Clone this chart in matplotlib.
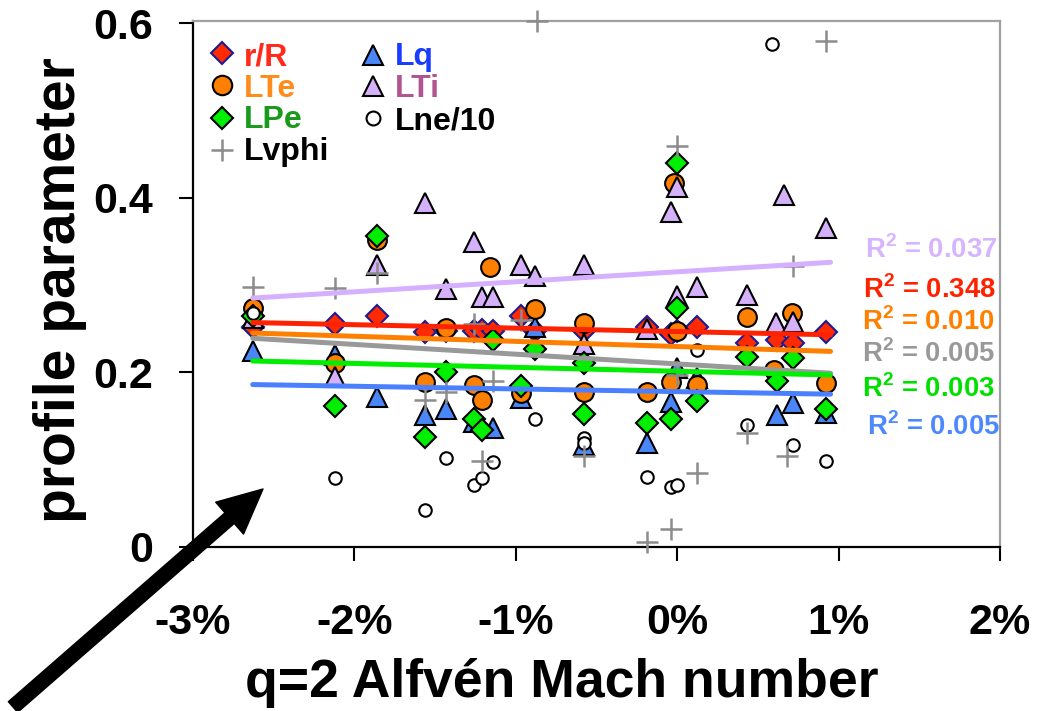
import matplotlib
matplotlib.use("Agg")
import matplotlib.pyplot as plt
from matplotlib.lines import Line2D
from matplotlib.patches import FancyArrowPatch

plt.rcParams['font.family'] = ['Liberation Sans', 'DejaVu Sans']
plt.rcParams['font.weight'] = 'bold'
plt.rcParams['mathtext.fontset'] = 'custom'
plt.rcParams['mathtext.rm'] = 'Liberation Sans:bold'
plt.rcParams['mathtext.bf'] = 'Liberation Sans:bold'

# ---- data: x = q=2 Alfven Mach number (%), y = profile parameter ----
rR_x = [-2.63, -2.12, -1.86, -1.56, -1.43, -1.26, -1.21, -1.14, -0.97, -0.88,
        -0.58, -0.19, -0.04, 0.00, 0.12, 0.43, 0.62, 0.72, 0.92]
rR_y = [0.252, 0.255, 0.264, 0.246, 0.247, 0.247, 0.248, 0.247, 0.264, 0.247,
        0.247, 0.252, 0.244, 0.247, 0.252, 0.234, 0.237, 0.234, 0.246]

Lq_x = [-2.63, -2.12, -1.86, -1.56, -1.43, -1.26, -1.14, -0.97, -0.88, -0.58,
        -0.19, -0.04, 0.00, 0.12, 0.62, 0.72, 0.92]
Lq_y = [0.224, 0.220, 0.172, 0.151, 0.158, 0.143, 0.136, 0.171, 0.252, 0.117,
        0.119, 0.166, 0.205, 0.193, 0.151, 0.165, 0.153]

LTe_x = [-2.63, -2.12, -1.86, -1.56, -1.43, -1.26, -1.21, -1.16, -0.97, -0.88,
         -0.58, -0.58, -0.19, -0.04, -0.02, 0.00, 0.12, 0.43, 0.60, 0.71, 0.92]
LTe_y = [0.274, 0.211, 0.352, 0.189, 0.251, 0.186, 0.168, 0.321, 0.176, 0.273,
         0.257, 0.178, 0.178, 0.189, 0.417, 0.247, 0.185, 0.263, 0.203, 0.268, 0.188]

LTi_x = [-2.63, -2.12, -1.86, -1.56, -1.43, -1.26, -1.21, -1.14, -0.97, -0.88,
         -0.58, -0.58, -0.19, -0.04, 0.00, 0.00, 0.12, 0.43, 0.66, 0.61, 0.72, 0.92]
LTi_y = [0.262, 0.195, 0.323, 0.394, 0.295, 0.349, 0.286, 0.286, 0.323, 0.310,
         0.323, 0.233, 0.250, 0.384, 0.412, 0.287, 0.298, 0.289, 0.403, 0.257, 0.258, 0.365]

LPe_x = [-2.63, -2.12, -1.86, -1.56, -1.43, -1.26, -1.21, -1.14, -0.97, -0.88,
         -0.58, -0.58, -0.19, -0.04, 0.00, 0.00, 0.12, 0.43, 0.62, 0.72, 0.92]
LPe_y = [0.264, 0.161, 0.356, 0.126, 0.200, 0.146, 0.134, 0.237, 0.184, 0.227,
         0.211, 0.152, 0.142, 0.146, 0.440, 0.274, 0.167, 0.218, 0.190, 0.216, 0.158]

Lne_x = [-2.63, -2.12, -1.56, -1.43, -1.26, -1.21, -1.14, -0.88, -0.58, -0.58,
         -0.19, -0.04, 0.00, 0.12, 0.43, 0.59, 0.72, 0.92]
Lne_y = [0.268, 0.079, 0.042, 0.102, 0.071, 0.079, 0.097, 0.146, 0.125, 0.119,
         0.080, 0.069, 0.071, 0.226, 0.140, 0.576, 0.117, 0.099]

Lvphi_x = [-2.63, -2.12, -1.86, -1.56, -1.43, -1.26, -1.21, -1.14, -0.97, -0.87,
           -0.58, -0.19, -0.04, 0.00, 0.00, 0.12, 0.43, 0.68, 0.72, 0.92]
Lvphi_y = [0.298, 0.297, 0.314, 0.168, 0.178, 0.255, 0.098, 0.190, 0.260, 0.602,
           0.104, 0.006, 0.021, 0.459, 0.197, 0.085, 0.131, 0.104, 0.322, 0.579]

# linear trend lines (start / end values over the fitted range)
fit_x = [-2.63, 0.95]
fit_LTi = [0.285, 0.326]
fit_rR = [0.257, 0.243]
fit_LTe = [0.245, 0.224]
fit_Lvphi = [0.239, 0.199]
fit_LPe = [0.213, 0.197]
fit_Lq = [0.186, 0.175]

r2_values = ['0.037', '0.348', '0.010', '0.005', '0.003', '0.005']

xticks = [-3, -2, -1, 0, 1, 2]
xtick_labels = ['-3%', '-2%', '-1%', '0%', '1%', '2%']
yticks = [0, 0.2, 0.4, 0.6]
ytick_labels = ['0', '0.2', '0.4', '0.6']

# ---- styles ----
sty = {
    'rR':    dict(marker='D', ms=11, mfc='#ff2a00', mec='#1c1c90', mew=1.5),
    'Lq':    dict(marker='^', ms=15, mfc='#4a86f7', mec='black', mew=1.5),
    'LTe':   dict(marker='o', ms=13.5, mfc='#ff8000', mec='black', mew=1.5),
    'LTi':   dict(marker='^', ms=15, mfc='#d5b0fb', mec='black', mew=1.5),
    'LPe':   dict(marker='D', ms=11, mfc='#00ee00', mec='black', mew=1.5),
    'Lne':   dict(marker='o', ms=9, mfc='white', mec='black', mew=1.5),
    'Lvphi': dict(marker='+', ms=16, mec='#8c8c8c', mew=1.8),
}

W, H = 1042, 711
fig = plt.figure(figsize=(W / 100, H / 100), dpi=100)
ax = fig.add_axes([193 / W, 164 / H, 807 / W, 526 / H])
ax.set_xlim(-3, 2)
ax.set_ylim(0, 0.6023)


def fpx(x, y):
    """figure pixel (from top-left) -> inches for dpi_scale_trans"""
    return x / 100, (H - y) / 100


series = [
    ('rR', rR_x, rR_y), ('Lq', Lq_x, Lq_y), ('LTe', LTe_x, LTe_y),
    ('LTi', LTi_x, LTi_y), ('LPe', LPe_x, LPe_y), ('Lne', Lne_x, Lne_y),
    ('Lvphi', Lvphi_x, Lvphi_y),
]
for z, (key, xs, ys) in enumerate(series):
    ax.plot(xs, ys, ls='none', zorder=3 + z, clip_on=False, **sty[key])

fits = [
    (fit_LTi, '#d4b0ff'), (fit_rR, '#ff2200'), (fit_LTe, '#ff8000'),
    (fit_Lvphi, '#999999'), (fit_LPe, '#00ee00'), (fit_Lq, '#4a80ff'),
]
for ys, c in fits:
    ax.plot(fit_x, ys, color=c, lw=3.6, solid_capstyle='round', zorder=12)

# R^2 annotations
r2_pos = [(865, 258), (863, 298), (862, 330), (862, 362), (862, 397), (867, 435)]
r2_col = ['#d6b4ff', '#ff2200', '#ff8000', '#999999', '#00e000', '#4d88ff']
for val, (px, py), c in zip(r2_values, r2_pos, r2_col):
    fig.text(*fpx(px, py), r'R$^{\mathbf{2}}$ = ' + val, transform=fig.dpi_scale_trans,
             color=c, fontsize=19.8, fontweight='bold', ha='left', va='baseline')

# legend (two columns)
leg = [
    ('rR', 'r/R', '#ff2a1a', 222, 53, 65),
    ('LTe', 'LTe', '#ff8c1a', 222, 85, 97),
    ('LPe', 'LPe', '#1a9a1a', 222, 118, 128),
    ('Lvphi', 'Lvphi', 'black', 222, 150, 160),
    ('Lq', 'Lq', '#1a3cff', 373, 55, 65),
    ('LTi', 'LTi', '#b05590', 373, 86, 97),
    ('Lne', 'Lne/10', 'black', 373, 118, 129),
]
for key, lab, c, mx, my, by in leg:
    st = dict(sty[key])
    if key == 'LTe':
        st['ms'] = 14
    if key == 'Lne':
        st['ms'] = 10
    fig.add_artist(Line2D([mx / 100], [(H - my) / 100], ls='none',
                          transform=fig.dpi_scale_trans, zorder=20, **st))
    fig.text(*fpx(mx + 22, by), lab, transform=fig.dpi_scale_trans, color=c,
             fontsize=23, fontweight='bold', ha='left', va='baseline')

# axes styling
for s in ['left', 'bottom']:
    ax.spines[s].set_color('black')
    ax.spines[s].set_linewidth(1.6)
for s in ['top', 'right']:
    ax.spines[s].set_color('#a0a0a0')
    ax.spines[s].set_linewidth(1.6)

ax.set_xticks(xticks)
ax.set_xticklabels(xtick_labels)
ax.set_yticks(yticks)
ax.set_yticklabels(ytick_labels)
ax.tick_params(axis='x', direction='out', length=10, width=1.5, pad=30,
               labelsize=31, color='black')
ax.tick_params(axis='y', direction='out', length=10, width=1.5, pad=19,
               labelsize=31, color='black')
for t in ax.get_xticklabels() + ax.get_yticklabels():
    t.set_fontweight('bold')

fig.text(*fpx(60, 290), 'profile parameter', transform=fig.dpi_scale_trans,
         rotation=90, ha='center', va='center', fontsize=41, fontweight='bold')
fig.text(*fpx(562, 697), 'q=2 Alfvén Mach number', transform=fig.dpi_scale_trans,
         ha='center', va='baseline', fontsize=38.5, fontweight='bold')

# pointer arrow in the lower-left corner
arrow = FancyArrowPatch(fpx(13, 707), fpx(263, 489), transform=fig.dpi_scale_trans,
                        arrowstyle='simple,head_length=1.1,head_width=1.05,tail_width=0.35',
                        mutation_scale=29, color='black', shrinkA=0, shrinkB=0, zorder=30)
fig.add_artist(arrow)

fig.savefig('out.png', dpi=100)
